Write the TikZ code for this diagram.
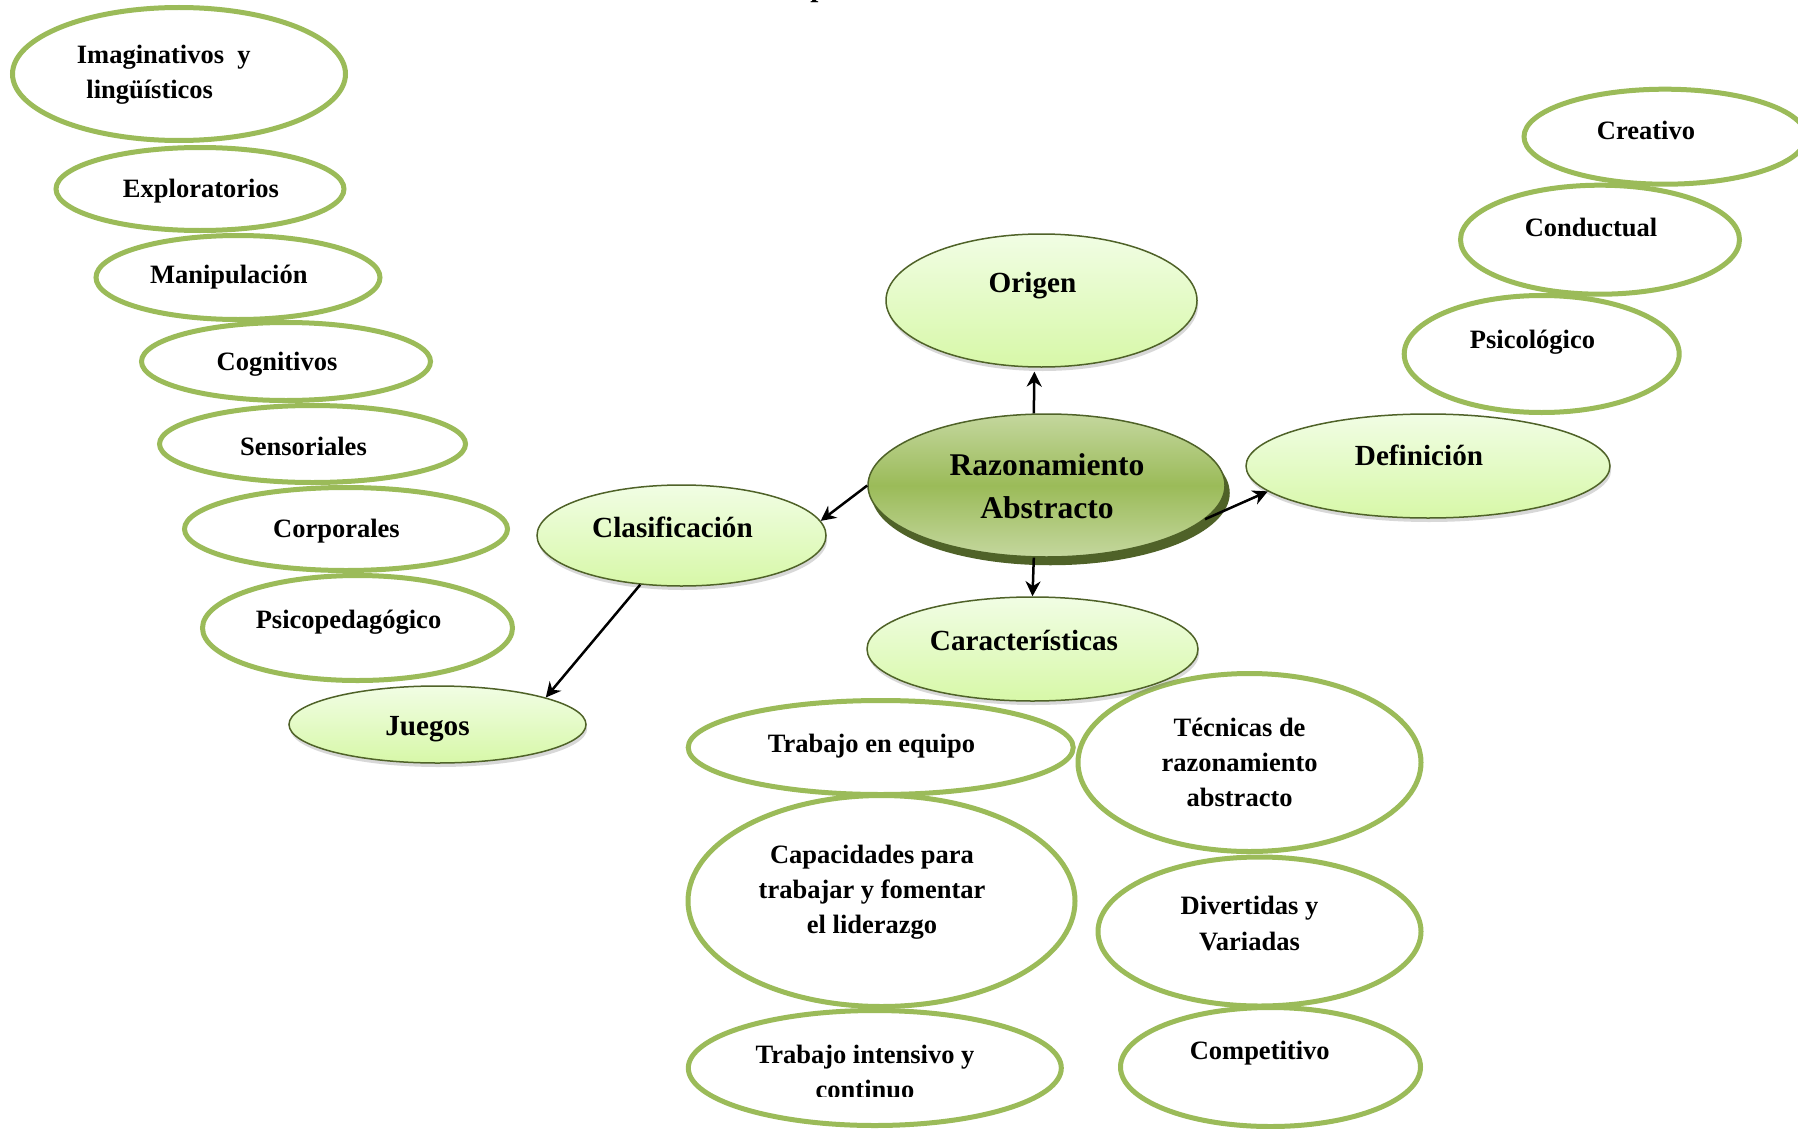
\documentclass[tikz,border=0pt]{standalone}
\usepackage{fontspec}
\setmainfont{Liberation Serif}
\usetikzlibrary{shapes.geometric,arrows.meta,shadows}

\definecolor{leafgreen}{HTML}{9BBB59}
\definecolor{darkolive}{HTML}{4F6228}
\definecolor{paletop}{HTML}{F1FDE4}
\definecolor{palebottom}{HTML}{D7F8A8}
\definecolor{coreedge}{HTML}{C4D79E}
\definecolor{coremid}{HTML}{9BBB59}

\newcommand\leafsize{\fontsize{13.25}{16}\selectfont\bfseries}
\newcommand\topicsize{\fontsize{14.6}{18}\selectfont\bfseries}
\newcommand\coresize{\fontsize{15.8}{20}\selectfont\bfseries}

\tikzset{
  leaf/.style={ellipse, draw=leafgreen, line width=2.5pt, fill=white, inner sep=0pt},
  topic/.style={ellipse, draw=darkolive, line width=0.75pt, top color=paletop,
    bottom color=palebottom, inner sep=0pt,
    drop shadow={opacity=0.3, shadow xshift=0.6pt, shadow yshift=-2pt}},
  ltext/.style={font=\leafsize, anchor=base, inner sep=0pt},
  ttext/.style={font=\topicsize, anchor=base, inner sep=0pt},
  ctext/.style={font=\coresize, anchor=base, inner sep=0pt},
  conn/.style={-{Stealth[length=7.5pt,width=7.5pt]}, line width=1.25pt, black},
}

\begin{document}
\begin{tikzpicture}[x=0.5pt, y=-0.5pt]
  \fill[white] (0,0) rectangle (1798,1129);
  \useasboundingbox (0,0) rectangle (1798,1129);

  % title line, mostly above the page
  \node[font=\topicsize, anchor=base west, inner sep=0pt] (title) at (810,-3.5) {p};

  % left column: kinds of games
  \node[leaf, minimum width=166.5pt, minimum height=66.5pt] (imag) at (179,74) {};
  \node[leaf, minimum width=144pt, minimum height=41.5pt] (expl) at (200,189) {};
  \node[leaf, minimum width=142pt, minimum height=42pt] (mani) at (238,277.5) {};
  \node[leaf, minimum width=144.5pt, minimum height=39pt] (cogn) at (286,361.5) {};
  \node[leaf, minimum width=153pt, minimum height=38.5pt] (sens) at (312.5,444) {};
  \node[leaf, minimum width=161.5pt, minimum height=41.5pt] (corp) at (346,529) {};
  \node[leaf, minimum width=155pt, minimum height=52.5pt] (psic) at (357.5,628) {};

  \node[ltext, anchor=base west] (imagA) at (76.5,64) {Imaginativos\ \ y};
  \node[ltext, anchor=base west] (imagB) at (86,98) {lingüísticos};
  \node[ltext] (explT) at (201,197) {Exploratorios};
  \node[ltext] (maniT) at (228.8,283) {Manipulación};
  \node[ltext] (cognT) at (277,370) {Cognitivos};
  \node[ltext] (sensT) at (303.5,455) {Sensoriales};
  \node[ltext] (corpT) at (336.5,537) {Corporales};
  \node[ltext] (psicT) at (348.5,628) {Psicopedagógico};

  % right column: definitions
  \node[leaf, minimum width=141pt, minimum height=47.5pt] (crea) at (1665,136.7) {};
  \node[leaf, minimum width=139.5pt, minimum height=54.5pt] (cond) at (1600,239.7) {};
  \node[leaf, minimum width=137.5pt, minimum height=58.5pt] (psig) at (1541.7,354) {};
  \node[ltext] (creaT) at (1646,140) {Creativo};
  \node[ltext] (condT) at (1591,236.7) {Conductual};
  \node[ltext] (psigT) at (1532.5,348) {Psicológico};

  % lower block: characteristics
  \node[leaf, minimum width=192.5pt, minimum height=47pt] (treq) at (880.7,747.5) {};
  \node[leaf, minimum width=171.5pt, minimum height=89pt] (tecn) at (1249.5,762.5) {};
  \node[leaf, minimum width=193.5pt, minimum height=105.5pt] (capa) at (881.5,901) {};
  \node[leaf, minimum width=161.5pt, minimum height=74.5pt] (dive) at (1259.5,931.5) {};
  \node[leaf, minimum width=186.5pt, minimum height=57.5pt] (trin) at (874.8,1068) {};
  \node[leaf, minimum width=150pt, minimum height=59.5pt] (comp) at (1270.5,1067) {};

  \node[ltext] (treqT) at (871.5,752) {Trabajo en equipo};
  \node[ltext] (tecnA) at (1239.6,736.5) {Técnicas de};
  \node[ltext] (tecnB) at (1239.6,771.5) {razonamiento};
  \node[ltext] (tecnC) at (1239.6,806) {abstracto};
  \node[ltext] (capaA) at (872,863) {Capacidades para};
  \node[ltext] (capaB) at (872,898) {trabajar y fomentar};
  \node[ltext] (capaC) at (872,933) {el liderazgo};
  \node[ltext] (diveA) at (1249.5,914) {Divertidas y};
  \node[ltext] (diveB) at (1249.5,950) {Variadas};
  \node[ltext] (trinA) at (865,1063) {Trabajo intensivo y};
  \begin{scope}
    \clip (600,1000) rectangle (1120,1096);
    \node[ltext] (trinB) at (865,1098.5) {continuo};
  \end{scope}
  \node[ltext] (compT) at (1259.7,1059) {Competitivo};

  % main topics
  \node[topic, minimum width=155.5pt, minimum height=66.5pt] (origen) at (1041.5,300.5) {};
  \node[topic, minimum width=144.5pt, minimum height=50.5pt] (clas) at (681.5,535.5) {};
  \node[topic, minimum width=148.5pt, minimum height=38.5pt] (juegos) at (437.5,724.5) {};
  \node[topic, minimum width=182pt, minimum height=52pt] (defin) at (1428,466) {};
  \node[topic, minimum width=165.5pt, minimum height=52pt] (carac) at (1032.5,649) {};

  \node[ttext] (origenT) at (1032.5,292) {Origen};
  \node[ttext] (clasT) at (672.5,537) {Clasificación};
  \node[ttext] (juegosT) at (427.5,735) {Juegos};
  \node[ttext] (definT) at (1419,465) {Definición};
  \node[ttext] (caracT) at (1024,650) {Características};

  % central concept with its dark rim
  \node[ellipse, fill=darkolive, draw=darkolive, line width=0.75pt, inner sep=0pt,
        minimum width=178.5pt, minimum height=71.5pt] (razonrim) at (1050.5,493) {};
  \node[ellipse, draw=darkolive, line width=0.75pt, inner sep=0pt,
        top color=coreedge, bottom color=coreedge, middle color=coremid,
        minimum width=178.5pt, minimum height=71.5pt] (razon) at (1046.5,485.5) {};
  \node[ctext] (razonA) at (1047,475) {Razonamiento};
  \node[ctext] (razonB) at (1047,518) {Abstracto};

  % connectors
  \draw[conn, shorten >=2pt] (razon.100.7) -- (origen.-96);
  \draw[conn] (razon.180.8) -- (clas.6.2);
  \draw[conn] (razon.-12.8) -- (defin.189.7);
  \draw[conn] (razon.-100.5) -- (carac.north);
  \draw[conn] (clas.-130.3) -- (juegos.14.8);
\end{tikzpicture}
\end{document}
